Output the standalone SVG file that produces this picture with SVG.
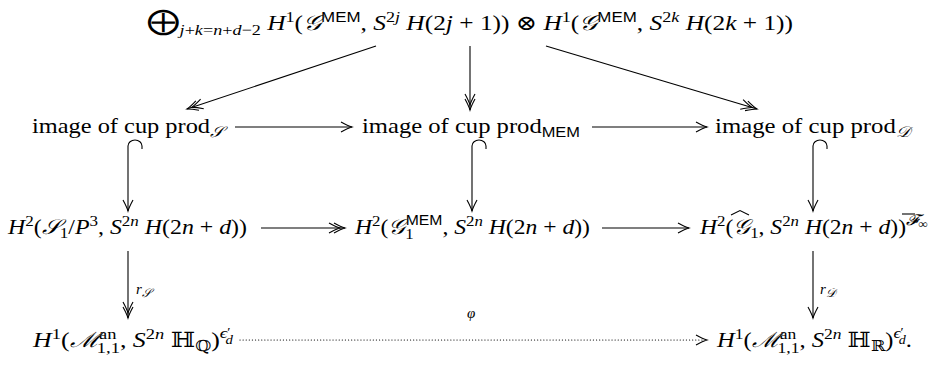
<svg xmlns="http://www.w3.org/2000/svg" width="933" height="366" viewBox="0 0 933 366">
<style>
text{font-family:"Liberation Serif","DejaVu Serif",serif;font-size:21px;fill:#000}
.i{font-style:italic}
.sm{font-size:15px}
.xs{font-size:12px}
.sf{font-family:"Liberation Sans","DejaVu Sans",sans-serif;font-size:14px}
.cal{font-family:"DejaVu Serif","Liberation Serif",serif;font-style:italic}
.ln{fill:none;stroke:#000;stroke-width:1.1}
.dot{fill:none;stroke:#000;stroke-width:1.2;stroke-dasharray:0.1 3;stroke-linecap:round}
</style>
<defs>
<marker id="a1" markerUnits="userSpaceOnUse" markerWidth="16" markerHeight="16" viewBox="-14 -8 16 16" refX="0" refY="0" orient="auto">
<path d="M-11,-5 Q-4,-1.2 0,0 Q-4,1.2 -11,5" fill="none" stroke="#000" stroke-width="1.1"/>
</marker>
<marker id="a2" markerUnits="userSpaceOnUse" markerWidth="22" markerHeight="16" viewBox="-20 -8 22 16" refX="0" refY="0" orient="auto">
<path d="M-11,-5 Q-4,-1.2 0,0 Q-4,1.2 -11,5 M-16,-5 Q-9,-1.2 -5,0 Q-9,1.2 -16,5" fill="none" stroke="#000" stroke-width="1.1"/>
</marker>
</defs>

<g id="top">
<text x="147" y="30" textLength="646" lengthAdjust="spacingAndGlyphs"><tspan font-size="27">⨁</tspan><tspan class="sm i" dy="5">j</tspan><tspan class="sm">+</tspan><tspan class="sm i">k</tspan><tspan class="sm">=</tspan><tspan class="sm i">n</tspan><tspan class="sm">+</tspan><tspan class="sm i">d</tspan><tspan class="sm">−2</tspan><tspan class="i" dy="-5"> H</tspan><tspan class="sm" dy="-8">1</tspan><tspan dy="8">(</tspan><tspan class="cal">𝒢</tspan><tspan class="sf" dy="-8">MEM</tspan><tspan dy="8">, </tspan><tspan class="i">S</tspan><tspan class="sm" dy="-8">2</tspan><tspan class="sm i">j</tspan><tspan class="i" dy="8"> H</tspan><tspan>(2</tspan><tspan class="i">j</tspan><tspan> + 1)) ⊗ </tspan><tspan class="i">H</tspan><tspan class="sm" dy="-8">1</tspan><tspan dy="8">(</tspan><tspan class="cal">𝒢</tspan><tspan class="sf" dy="-8">MEM</tspan><tspan dy="8">, </tspan><tspan class="i">S</tspan><tspan class="sm" dy="-8">2</tspan><tspan class="sm i">k</tspan><tspan class="i" dy="8"> H</tspan><tspan>(2</tspan><tspan class="i">k</tspan><tspan> + 1))</tspan></text>
</g>

<g id="cupS"><text x="32" y="133" textLength="192" lengthAdjust="spacingAndGlyphs">image of cup prod<tspan class="cal sm" dy="4">𝒮</tspan></text></g>
<g id="cupMEM"><text x="362" y="133" textLength="218" lengthAdjust="spacingAndGlyphs">image of cup prod<tspan class="sf" font-size="16" dy="4">MEM</tspan></text></g>
<g id="cupD"><text x="715" y="133" textLength="195" lengthAdjust="spacingAndGlyphs">image of cup prod<tspan class="cal sm" dy="4">𝒟</tspan></text></g>

<g id="H2S"><text x="8" y="234" textLength="239" lengthAdjust="spacingAndGlyphs"><tspan class="i">H</tspan><tspan class="sm" dy="-8">2</tspan><tspan dy="8">(</tspan><tspan class="cal">𝒮</tspan><tspan class="sm" dy="4">1</tspan><tspan dy="-4">/</tspan><tspan class="i">P</tspan><tspan class="sm" dy="-8">3</tspan><tspan dy="8">, </tspan><tspan class="i">S</tspan><tspan class="sm" dy="-8">2</tspan><tspan class="sm i">n</tspan><tspan class="i" dy="8"> H</tspan><tspan>(2</tspan><tspan class="i">n</tspan><tspan> + </tspan><tspan class="i">d</tspan><tspan>))</tspan></text></g>

<g id="H2MEM"><text x="355" y="234" textLength="235" lengthAdjust="spacingAndGlyphs"><tspan class="i">H</tspan><tspan class="sm" dy="-8">2</tspan><tspan dy="8">(</tspan><tspan class="cal">𝒢</tspan><tspan class="sm" dy="5">1</tspan><tspan class="sf" dx="-7" dy="-14">MEM</tspan><tspan dy="9">, </tspan><tspan class="i">S</tspan><tspan class="sm" dy="-8">2</tspan><tspan class="sm i">n</tspan><tspan class="i" dy="8"> H</tspan><tspan>(2</tspan><tspan class="i">n</tspan><tspan> + </tspan><tspan class="i">d</tspan><tspan>))</tspan></text></g>

<g id="H2D"><text x="700" y="234" textLength="228" lengthAdjust="spacingAndGlyphs"><tspan class="i">H</tspan><tspan class="sm" dy="-8">2</tspan><tspan dy="8">(</tspan><tspan class="cal">𝒢</tspan><tspan class="sm" dy="4">1</tspan><tspan dy="-4">, </tspan><tspan class="i">S</tspan><tspan class="sm" dy="-8">2</tspan><tspan class="sm i">n</tspan><tspan class="i" dy="8"> H</tspan><tspan>(2</tspan><tspan class="i">n</tspan><tspan> + </tspan><tspan class="i">d</tspan><tspan>))</tspan><tspan class="cal sm" dy="-9">𝓕</tspan><tspan class="xs" dy="3">∞</tspan></text>
<path class="ln" d="M731,215 L740,210.5 L749,215"/>
<line class="ln" x1="902" y1="214" x2="915" y2="214"/>
</g>

<g id="H1Q"><text x="33" y="347" textLength="200" lengthAdjust="spacingAndGlyphs"><tspan class="i">H</tspan><tspan class="sm" dy="-8">1</tspan><tspan dy="8">(</tspan><tspan class="cal">ℳ</tspan><tspan class="sm" dy="-8">an</tspan><tspan class="sm" dx="-16" dy="14">1,1</tspan><tspan dy="-6">, </tspan><tspan class="i">S</tspan><tspan class="sm" dy="-8">2</tspan><tspan class="sm i">n</tspan><tspan dy="8"> ℍ</tspan><tspan class="sm" dy="4">ℚ</tspan><tspan dy="-4">)</tspan><tspan class="sm i" dy="-9">ϵ</tspan><tspan class="xs" dy="-2">′</tspan><tspan class="xs i" dx="-4" dy="8">d</tspan></text></g>

<g id="H1R"><text x="717" y="347" textLength="195" lengthAdjust="spacingAndGlyphs"><tspan class="i">H</tspan><tspan class="sm" dy="-8">1</tspan><tspan dy="8">(</tspan><tspan class="cal">ℳ</tspan><tspan class="sm" dy="-8">an</tspan><tspan class="sm" dx="-16" dy="14">1,1</tspan><tspan dy="-6">, </tspan><tspan class="i">S</tspan><tspan class="sm" dy="-8">2</tspan><tspan class="sm i">n</tspan><tspan dy="8"> ℍ</tspan><tspan class="sm" dy="4">ℝ</tspan><tspan dy="-4">)</tspan><tspan class="sm i" dy="-9">ϵ</tspan><tspan class="xs" dy="-2">′</tspan><tspan class="xs i" dx="-4" dy="8">d</tspan><tspan dy="3">.</tspan></text></g>

<g id="connectors">
<line class="ln" x1="376" y1="46" x2="187" y2="109" marker-end="url(#a2)"/>
<line class="ln" x1="470" y1="46" x2="470" y2="110" marker-end="url(#a2)"/>
<line class="ln" x1="546" y1="46" x2="757" y2="109" marker-end="url(#a2)"/>
<line class="ln" x1="235" y1="127" x2="352" y2="127" marker-end="url(#a1)"/>
<line class="ln" x1="592" y1="127" x2="707" y2="127" marker-end="url(#a1)"/>
<path class="ln" d="M142,149 V146 A7,6 0 0 0 128,146 V211" marker-end="url(#a1)"/>
<path class="ln" d="M486,149 V146 A7,6 0 0 0 472,146 V211" marker-end="url(#a1)"/>
<path class="ln" d="M827,149 V146 A7,6 0 0 0 813,146 V211" marker-end="url(#a1)"/>
<line class="ln" x1="261" y1="228" x2="345" y2="228" marker-end="url(#a2)"/>
<line class="ln" x1="602" y1="228" x2="689" y2="228" marker-end="url(#a1)"/>
<line class="ln" x1="128" y1="251" x2="128" y2="318" marker-end="url(#a2)"/>
<line class="ln" x1="813" y1="251" x2="813" y2="318" marker-end="url(#a1)"/>
<line class="dot" x1="240" y1="340" x2="705" y2="340"/>
<path d="M696,335 Q703,338.8 707,340 Q703,341.2 696,345" fill="none" stroke="#000" stroke-width="1.1"/>
<text x="136" y="294"><tspan class="sm i">r</tspan><tspan class="cal xs" dy="3">𝒮</tspan></text>
<text x="820" y="294"><tspan class="sm i">r</tspan><tspan class="cal xs" dy="3">𝒟</tspan></text>
<text x="467" y="318" class="sm i">φ</text>
</g>
</svg>
